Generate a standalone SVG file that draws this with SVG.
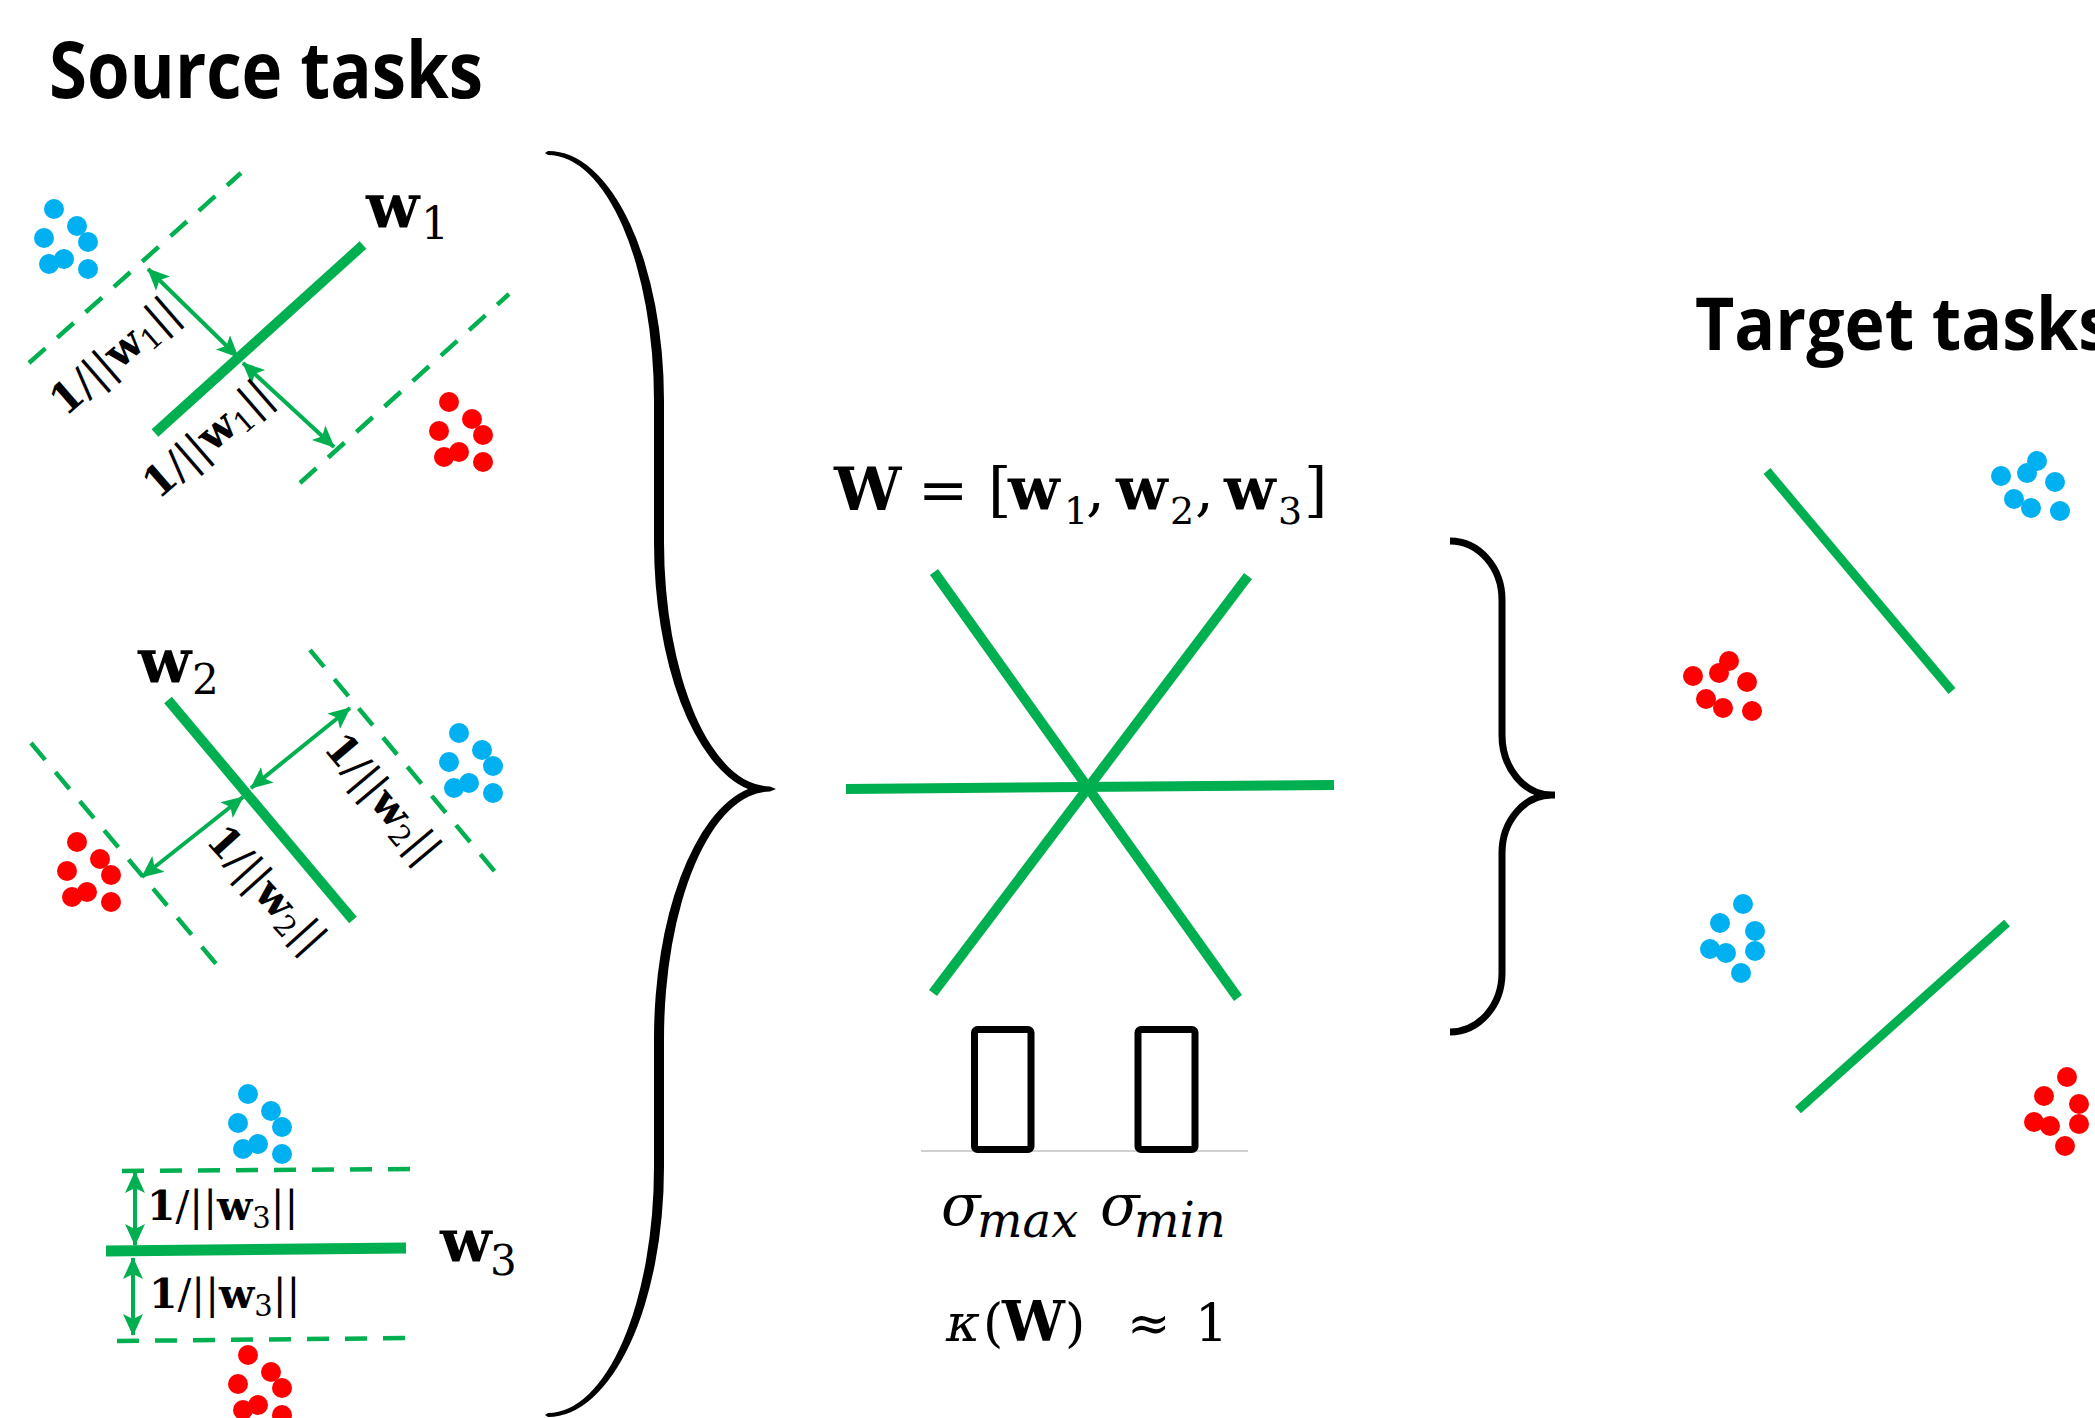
<svg xmlns="http://www.w3.org/2000/svg" width="2095" height="1418" viewBox="0 0 2095 1418">
  <style>
    .title{font-family:"Open Sans","Liberation Sans",sans-serif;font-weight:700;fill:#000}
    .m{font-family:"DejaVu Serif","Liberation Serif",serif;fill:#000}
    .b{font-weight:700}
    .i{font-style:italic}
    .sep{stroke:#00B050;stroke-width:10;fill:none}
    .margin{stroke:#00B050;stroke-width:4.5;stroke-dasharray:22 16;fill:none}
    .gap{stroke:#00B050;stroke-width:4;fill:none;marker-start:url(#ah);marker-end:url(#ah)}
    .pos{fill:#00B0F0}
    .neg{fill:#FF0000}
    .bar{fill:none;stroke:#000;stroke-width:7}
  </style>
  <defs>
    <marker id="ah" viewBox="0 0 22 22" refX="21" refY="11" markerWidth="22" markerHeight="22" markerUnits="userSpaceOnUse" orient="auto-start-reverse">
      <path d="M0,1 L22,11 L0,21 L5,11 Z" fill="#00B050"/>
    </marker>
    <!-- point clusters (7 samples each) -->
    <g id="clS">
      <circle cx="0" cy="0" r="10"/><circle cx="23" cy="17" r="10"/><circle cx="-10" cy="29" r="10"/>
      <circle cx="34" cy="33" r="10"/><circle cx="10" cy="50" r="10"/><circle cx="-5" cy="55" r="10"/>
      <circle cx="34" cy="60" r="10"/>
    </g>
    <g id="clT">
      <circle cx="0" cy="0" r="10"/><circle cx="36" cy="-15" r="10"/><circle cx="26" cy="-3" r="10"/>
      <circle cx="54" cy="6" r="10"/><circle cx="13" cy="23" r="10"/><circle cx="30" cy="32" r="10"/>
      <circle cx="59" cy="35" r="10"/>
    </g>
    <g id="clB">
      <circle cx="0" cy="0" r="10"/><circle cx="-23" cy="19" r="10"/><circle cx="12" cy="27" r="10"/>
      <circle cx="-33" cy="45" r="10"/><circle cx="-17" cy="49" r="10"/><circle cx="12" cy="47" r="10"/>
      <circle cx="-2" cy="69" r="10"/>
    </g>
  </defs>

  <rect x="0" y="0" width="2095" height="1418" fill="#fff"/>

  <g id="title-source">
    <text class="title" x="49" y="98" font-size="78" textLength="434" lengthAdjust="spacingAndGlyphs">Source tasks</text>
  </g>
  <g id="title-target">
    <text class="title" x="1695" y="350" font-size="74" textLength="417" lengthAdjust="spacingAndGlyphs">Target tasks</text>
  </g>

  <!-- source task 1 -->
  <g id="source-1">
    <use href="#clS" class="pos" x="54" y="209"/>
    <use href="#clS" class="neg" x="449" y="402"/>
    <line class="margin" x1="29" y1="363" x2="241" y2="173"/>
    <line class="margin" x1="300" y1="483" x2="509" y2="294"/>
    <line class="sep" x1="155" y1="433" x2="363" y2="245"/>
    <line class="gap" x1="238" y1="357" x2="148" y2="269"/>
    <line class="gap" x1="243" y1="363" x2="334" y2="447"/>
    <text class="m" y="227"><tspan class="b" x="366" font-size="62">w</tspan><tspan x="421" y="239" font-size="44">1</tspan></text>
    <text class="m" font-size="42" text-anchor="middle" transform="translate(115,357) rotate(-41)" x="0" y="13"><tspan class="b">1</tspan>/||<tspan class="b">w</tspan><tspan font-size="29" dy="7">1</tspan><tspan dy="-7">||</tspan></text>
    <text class="m" font-size="42" text-anchor="middle" transform="translate(208,440) rotate(-41)" x="0" y="13"><tspan class="b">1</tspan>/||<tspan class="b">w</tspan><tspan font-size="29" dy="7">1</tspan><tspan dy="-7">||</tspan></text>
  </g>

  <!-- source task 2 -->
  <g id="source-2">
    <use href="#clS" class="pos" x="459" y="733"/>
    <use href="#clS" class="neg" x="77" y="842"/>
    <line class="margin" x1="310" y1="650" x2="496" y2="873"/>
    <line class="margin" x1="31" y1="743" x2="217" y2="965"/>
    <line class="sep" x1="168" y1="700" x2="353" y2="920"/>
    <line class="gap" x1="251" y1="788" x2="350" y2="708"/>
    <line class="gap" x1="243" y1="797" x2="142" y2="877"/>
    <text class="m" y="682"><tspan class="b" x="138" font-size="62">w</tspan><tspan x="192" y="694" font-size="42">2</tspan></text>
    <text class="m" font-size="42" text-anchor="middle" transform="translate(382,799) rotate(50)" x="0" y="13"><tspan class="b">1</tspan>/||<tspan class="b">w</tspan><tspan font-size="29" dy="7">2</tspan><tspan dy="-7">||</tspan></text>
    <text class="m" font-size="42" text-anchor="middle" transform="translate(266,890) rotate(48)" x="0" y="13"><tspan class="b">1</tspan>/||<tspan class="b">w</tspan><tspan font-size="29" dy="7">2</tspan><tspan dy="-7">||</tspan></text>
  </g>

  <!-- source task 3 -->
  <g id="source-3">
    <use href="#clS" class="pos" x="248" y="1094"/>
    <use href="#clS" class="neg" x="248" y="1355"/>
    <line class="margin" x1="122" y1="1171" x2="415" y2="1169"/>
    <line class="margin" x1="117" y1="1341" x2="410" y2="1338"/>
    <line class="sep" x1="106" y1="1251" x2="406" y2="1248" style="stroke-width:11"/>
    <line class="gap" x1="135" y1="1172" x2="135" y2="1245"/>
    <line class="gap" x1="133" y1="1258" x2="133" y2="1335"/>
    <text class="m" y="1262"><tspan class="b" x="440" font-size="60">w</tspan><tspan x="490" y="1275" font-size="42">3</tspan></text>
    <text class="m" font-size="41" x="147" y="1220"><tspan class="b">1</tspan>/||<tspan class="b">w</tspan><tspan font-size="29" dy="8">3</tspan><tspan dy="-8">||</tspan></text>
    <text class="m" font-size="41" x="149" y="1308"><tspan class="b">1</tspan>/||<tspan class="b">w</tspan><tspan font-size="29" dy="8">3</tspan><tspan dy="-8">||</tspan></text>
  </g>

  <!-- combined weight matrix -->
  <g id="weight-matrix">
    <text class="m" font-size="60" y="510"><tspan class="b" x="834">W</tspan><tspan x="918">=</tspan><tspan x="988">[</tspan><tspan class="b" x="1008">w</tspan><tspan x="1064" y="524" font-size="38">1</tspan><tspan x="1086" y="510">,</tspan><tspan class="b" x="1116">w</tspan><tspan x="1170" y="524" font-size="38">2</tspan><tspan x="1195" y="510">,</tspan><tspan class="b" x="1224">w</tspan><tspan x="1278" y="524" font-size="38">3</tspan><tspan x="1304" y="510">]</tspan></text>
    <line class="sep" x1="934" y1="572" x2="1238" y2="998"/>
    <line class="sep" x1="1248" y1="576" x2="933" y2="993"/>
    <line class="sep" x1="846" y1="789" x2="1334" y2="785"/>
  </g>

  <!-- singular value spectrum -->
  <g id="spectrum">
    <line x1="921" y1="1151" x2="1248" y2="1151" stroke="#D0D0D0" stroke-width="2"/>
    <rect class="bar" x="974.5" y="1029.5" width="56.5" height="120" rx="3"/>
    <rect class="bar" x="1138" y="1029.5" width="57" height="120" rx="3"/>
    <text class="m i" font-size="58" y="1225"><tspan x="941">σ</tspan><tspan x="977" y="1237" font-size="48">max</tspan><tspan x="1100" y="1225" font-size="58">σ</tspan><tspan x="1134" y="1237" font-size="48">min</tspan></text>
    <text class="m" font-size="52" y="1341"><tspan class="i" x="946">κ</tspan><tspan x="983">(</tspan><tspan class="b" x="1002" font-size="56">W</tspan><tspan x="1065">)</tspan><tspan x="1127">≈</tspan><tspan x="1195">1</tspan></text>
  </g>

  <!-- target tasks -->
  <g id="target-1">
    <use href="#clT" class="pos" x="2001" y="476"/>
    <use href="#clT" class="neg" x="1693" y="676"/>
    <line class="sep" x1="1767" y1="471" x2="1952" y2="691" style="stroke-width:9"/>
  </g>
  <g id="target-2">
    <use href="#clB" class="pos" x="1743" y="904"/>
    <use href="#clB" class="neg" x="2067" y="1077"/>
    <line class="sep" x1="1798" y1="1110" x2="2007" y2="923" style="stroke-width:9"/>
  </g>

  <g id="connectors">
    <!-- large brace gathering the source tasks -->
    <path fill="#000" d="M548,151 A115.5,250 0 0 1 664,401 L664,542 A106,244.5 0 0 0 770,786.5 L776,789 L770,791.5 A106,247.5 0 0 0 664,1039 L664,1167 A116,250 0 0 1 548,1417 L545,1415 L548,1413 A106,246 0 0 0 654,1167 L654,1039 A116,254.5 0 0 1 748,789 A116,251.5 0 0 1 654,542 L654,401 A106,246 0 0 0 548,155 L545,153 Z"/>
    <!-- small brace from the weight matrix to the targets -->
    <path fill="none" stroke="#000" stroke-width="7" d="M1450,541 A52,59 0 0 1 1502,600 L1502,735 A50,60 0 0 0 1552,795 L1555,795 M1552,795 A50,58 0 0 0 1502,853 L1502,973 A52,59 0 0 1 1450,1032"/>
  </g>
</svg>
